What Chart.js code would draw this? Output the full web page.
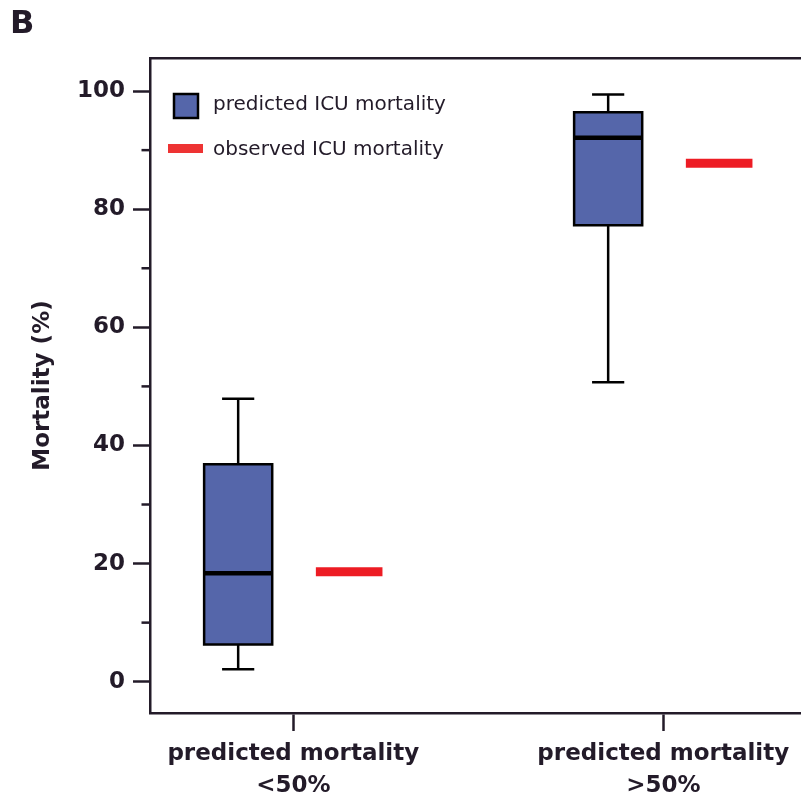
<!DOCTYPE html>
<html>
<head>
<meta charset="utf-8">
<script src="https://cdn.jsdelivr.net/npm/chart.js@4.4.1/dist/chart.umd.min.js"></script>
<style>
  html, body { margin: 0; padding: 0; background: #ffffff; }
  #wrap { width: 801px; height: 802px; }
</style>
</head>
<body>
<div id="wrap"><canvas id="c" width="801" height="802"></canvas></div>
<script>
// ---------------- data ----------------
const panelLabel = 'B';
const categories = ['predicted mortality <50%', 'predicted mortality >50%'];
const xTickLabels = [['predicted mortality', '<50%'], ['predicted mortality', '>50%']];
const predMin    = [2.1, 50.7];
const predQ1     = [6.3, 77.3];
const predMedian = [18.35, 92.1];
const predQ3     = [36.8, 96.4];
const predMax    = [47.9, 99.4];
const observed   = [18.6, 87.8];
const yTicks      = [0, 20, 40, 60, 80, 100];
const yMinorTicks = [10, 30, 50, 70, 90];
const legendLabels = ['predicted ICU mortality', 'observed ICU mortality'];
const yTitle = 'Mortality (%)';

// ---------------- styles ----------------
const INK = '#231b29';
const BOX_BLUE = '#5566aa';
const RED = '#ed1c24';
const LEGEND_RED = '#ee3333';
const FONT = 'DejaVu Sans';
Chart.defaults.font.family = FONT;
Chart.defaults.color = INK;

const X_MIN = 0.6127, X_MAX = 2.3722;
const Y_MIN = -5.3, Y_MAX = 105.6;
const BOX_OFFSET = -0.149, BOX_HALF = 0.092, CAP_HALF = 0.0435;
const OBS_OFFSET = 0.151, OBS_HALF = 0.09;

function lineDs(points, color, width, order, extra) {
  return Object.assign({
    type: 'line', data: points, borderColor: color, borderWidth: width,
    pointRadius: 0, pointHoverRadius: 0, fill: false, order: order,
    borderCapStyle: 'butt', borderJoinStyle: 'miter', tension: 0
  }, extra || {});
}

const datasets = [];
categories.forEach((cat, i) => {
  const cx = i + 1;
  const bx = cx + BOX_OFFSET;
  const l = bx - BOX_HALF, r = bx + BOX_HALF;
  // box
  datasets.push(lineDs([
    {x: l, y: predQ1[i]}, {x: r, y: predQ1[i]}, {x: r, y: predQ3[i]},
    {x: l, y: predQ3[i]}, {x: l, y: predQ1[i]}, {x: r, y: predQ1[i]}
  ], '#000000', 2.5, 3, {fill: 'shape', backgroundColor: BOX_BLUE}));
  // whiskers
  datasets.push(lineDs([{x: bx, y: predQ3[i]}, {x: bx, y: predMax[i]}], '#000000', 2.5, 2));
  datasets.push(lineDs([{x: bx - CAP_HALF, y: predMax[i]}, {x: bx + CAP_HALF, y: predMax[i]}], '#000000', 2.5, 2));
  datasets.push(lineDs([{x: bx, y: predQ1[i]}, {x: bx, y: predMin[i]}], '#000000', 2.5, 2));
  datasets.push(lineDs([{x: bx - CAP_HALF, y: predMin[i]}, {x: bx + CAP_HALF, y: predMin[i]}], '#000000', 2.5, 2));
  // median
  datasets.push(lineDs([{x: l, y: predMedian[i]}, {x: r, y: predMedian[i]}], '#000000', 4.5, 0));
  // observed
  const ox = cx + OBS_OFFSET;
  datasets.push(lineDs([{x: ox - OBS_HALF, y: observed[i]}, {x: ox + OBS_HALF, y: observed[i]}], RED, 9, 0));
});

const extrasPlugin = {
  id: 'extras',
  afterDraw(chart) {
    const ctx = chart.ctx;
    const y = chart.scales.y;
    const area = chart.chartArea;
    ctx.save();
    // minor ticks
    ctx.strokeStyle = INK;
    ctx.lineWidth = 2.5;
    yMinorTicks.forEach(v => {
      const py = y.getPixelForValue(v);
      ctx.beginPath();
      ctx.moveTo(area.left - 8.5, py);
      ctx.lineTo(area.left, py);
      ctx.stroke();
    });
    // panel label
    ctx.fillStyle = INK;
    ctx.font = 'bold 32px "' + FONT + '"';
    ctx.textAlign = 'left';
    ctx.textBaseline = 'alphabetic';
    ctx.fillText(panelLabel, 10, 33);
    // legend
    ctx.fillStyle = BOX_BLUE;
    ctx.fillRect(174, 94, 24, 24);
    ctx.strokeStyle = '#000000';
    ctx.lineWidth = 2.5;
    ctx.strokeRect(174, 94, 24, 24);
    ctx.strokeStyle = LEGEND_RED;
    ctx.lineWidth = 9;
    ctx.beginPath();
    ctx.moveTo(168, 148.5);
    ctx.lineTo(203, 148.5);
    ctx.stroke();
    ctx.fillStyle = INK;
    ctx.font = '20px "' + FONT + '"';
    ctx.fillText(legendLabels[0], 213, 110);
    ctx.fillText(legendLabels[1], 213, 155);
    ctx.restore();
  }
};

new Chart(document.getElementById('c'), {
  type: 'line',
  data: { datasets: datasets },
  options: {
    responsive: false,
    animation: false,
    events: [],
    layout: { padding: 0 },
    plugins: { legend: { display: false }, tooltip: { enabled: false }, title: { display: false } },
    scales: {
      x: {
        type: 'linear', position: 'bottom', min: X_MIN, max: X_MAX, bounds: 'data',
        afterBuildTicks: s => { s.ticks = categories.map((c, i) => ({ value: i + 1 })); },
        afterFit: s => { s.height = 89; s.paddingLeft = 0; s.paddingRight = 0; },
        ticks: {
          callback: (v, i) => xTickLabels[i],
          font: { size: 23, weight: 'bold', lineHeight: 32 / 23 },
          color: INK, padding: 7, maxRotation: 0, autoSkip: false
        },
        grid: { display: true, drawOnChartArea: false, drawTicks: true, tickLength: 18, tickWidth: 2.5, tickColor: INK },
        border: { display: true, width: 2.5, color: INK }
      },
      x2: {
        type: 'linear', position: 'top', min: X_MIN, max: X_MAX, display: true, bounds: 'data',
        afterFit: s => { s.height = 58; s.paddingLeft = 0; s.paddingRight = 0; },
        ticks: { display: false },
        grid: { display: false, drawTicks: false },
        border: { display: true, width: 2.5, color: INK }
      },
      y: {
        type: 'linear', position: 'left', min: Y_MIN, max: Y_MAX, bounds: 'data',
        afterBuildTicks: s => { s.ticks = yTicks.map(v => ({ value: v })); },
        afterFit: s => { s.width = 150; s.paddingTop = 0; s.paddingBottom = 0; },
        ticks: { callback: v => String(v), font: { size: 23, weight: 'bold' }, color: INK, padding: 8 },
        grid: { display: true, drawOnChartArea: false, drawTicks: true, tickLength: 17, tickWidth: 2.5, tickColor: INK },
        border: { display: true, width: 2.5, color: INK },
        title: { display: true, text: yTitle, font: { size: 23, weight: 'bold' }, color: INK, padding: { top: 29, bottom: 0 } }
      }
    }
  },
  plugins: [extrasPlugin]
});
</script>
</body>
</html>
